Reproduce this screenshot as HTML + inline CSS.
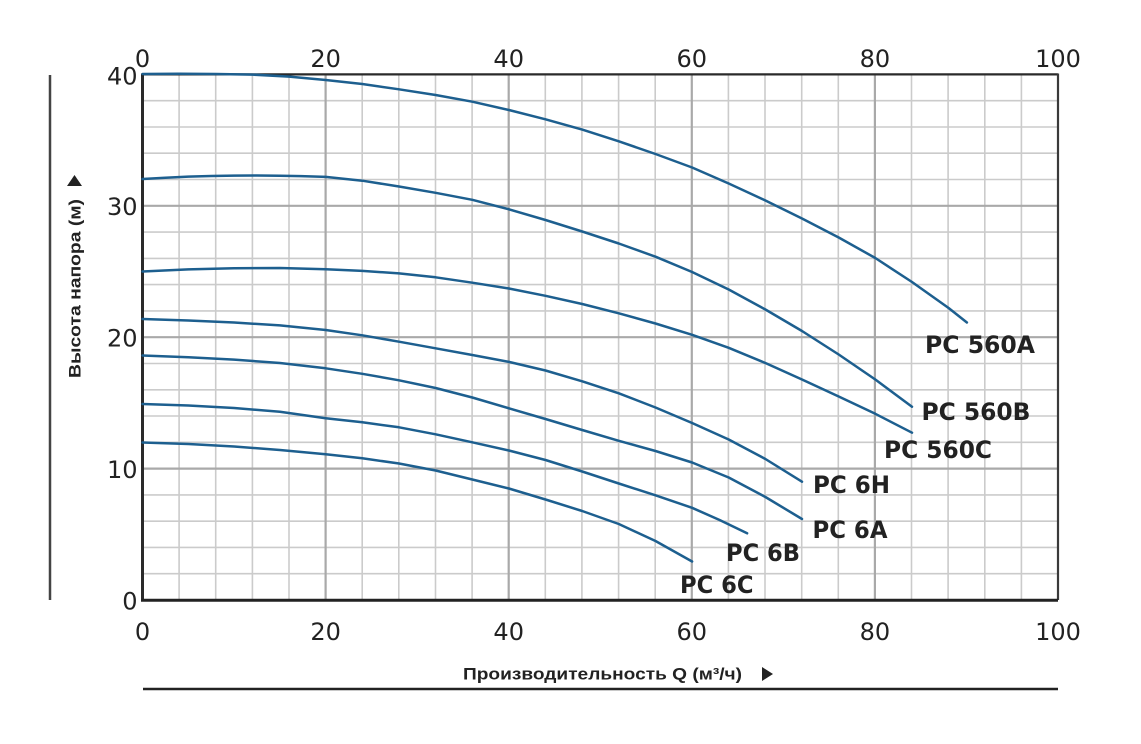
<!DOCTYPE html>
<html>
<head>
<meta charset="utf-8">
<style>
html,body{margin:0;padding:0;background:#fff;}
svg{display:block;}
.tk{font-family:"DejaVu Sans","Liberation Sans",sans-serif;font-size:24px;fill:#222;}
.lb{font-family:"DejaVu Sans","Liberation Sans",sans-serif;font-weight:bold;font-size:24px;fill:#222;}
.tt{font-family:"Liberation Sans","DejaVu Sans",sans-serif;font-weight:bold;font-size:17px;fill:#222;}
.c{fill:none;stroke:#1d5f8f;stroke-width:2.5;stroke-linejoin:round;stroke-linecap:round;}
</style>
</head>
<body>
<svg width="1141" height="744" viewBox="0 0 1141 744" xmlns="http://www.w3.org/2000/svg">
<rect width="1141" height="744" fill="#fff"/>
<g stroke="#cbcbcb" stroke-width="1.6">
<line x1="179.1" y1="74" x2="179.1" y2="600"/>
<line x1="215.7" y1="74" x2="215.7" y2="600"/>
<line x1="252.4" y1="74" x2="252.4" y2="600"/>
<line x1="289.0" y1="74" x2="289.0" y2="600"/>
<line x1="362.2" y1="74" x2="362.2" y2="600"/>
<line x1="398.8" y1="74" x2="398.8" y2="600"/>
<line x1="435.5" y1="74" x2="435.5" y2="600"/>
<line x1="472.1" y1="74" x2="472.1" y2="600"/>
<line x1="545.3" y1="74" x2="545.3" y2="600"/>
<line x1="581.9" y1="74" x2="581.9" y2="600"/>
<line x1="618.6" y1="74" x2="618.6" y2="600"/>
<line x1="655.2" y1="74" x2="655.2" y2="600"/>
<line x1="728.4" y1="74" x2="728.4" y2="600"/>
<line x1="765.0" y1="74" x2="765.0" y2="600"/>
<line x1="801.7" y1="74" x2="801.7" y2="600"/>
<line x1="838.3" y1="74" x2="838.3" y2="600"/>
<line x1="911.5" y1="74" x2="911.5" y2="600"/>
<line x1="948.1" y1="74" x2="948.1" y2="600"/>
<line x1="984.8" y1="74" x2="984.8" y2="600"/>
<line x1="1021.4" y1="74" x2="1021.4" y2="600"/>
<line x1="142.5" y1="573.7" x2="1058" y2="573.7"/>
<line x1="142.5" y1="547.4" x2="1058" y2="547.4"/>
<line x1="142.5" y1="521.2" x2="1058" y2="521.2"/>
<line x1="142.5" y1="494.9" x2="1058" y2="494.9"/>
<line x1="142.5" y1="442.3" x2="1058" y2="442.3"/>
<line x1="142.5" y1="416.0" x2="1058" y2="416.0"/>
<line x1="142.5" y1="389.8" x2="1058" y2="389.8"/>
<line x1="142.5" y1="363.5" x2="1058" y2="363.5"/>
<line x1="142.5" y1="310.9" x2="1058" y2="310.9"/>
<line x1="142.5" y1="284.6" x2="1058" y2="284.6"/>
<line x1="142.5" y1="258.4" x2="1058" y2="258.4"/>
<line x1="142.5" y1="232.1" x2="1058" y2="232.1"/>
<line x1="142.5" y1="179.5" x2="1058" y2="179.5"/>
<line x1="142.5" y1="153.2" x2="1058" y2="153.2"/>
<line x1="142.5" y1="127.0" x2="1058" y2="127.0"/>
<line x1="142.5" y1="100.7" x2="1058" y2="100.7"/>
</g>
<g stroke="#a9a9a9" stroke-width="2.2">
<line x1="325.6" y1="74" x2="325.6" y2="600"/>
<line x1="508.7" y1="74" x2="508.7" y2="600"/>
<line x1="691.8" y1="74" x2="691.8" y2="600"/>
<line x1="874.9" y1="74" x2="874.9" y2="600"/>
<line x1="142.5" y1="468.6" x2="1058" y2="468.6"/>
<line x1="142.5" y1="337.2" x2="1058" y2="337.2"/>
<line x1="142.5" y1="205.8" x2="1058" y2="205.8"/>
</g>
<line x1="142.5" y1="74.4" x2="1058" y2="74.4" stroke="#2a2a2a" stroke-width="2.2"/>
<line x1="1058" y1="73.5" x2="1058" y2="600" stroke="#3a3a3a" stroke-width="2.2"/>
<line x1="142.5" y1="73.5" x2="142.5" y2="601.5" stroke="#2a2a2a" stroke-width="3"/>
<line x1="141" y1="600.3" x2="1058" y2="600.3" stroke="#222" stroke-width="3"/>

<polyline class="c" points="142.5,74 179.1,73.8 215.8,74 252.4,74.6 289.1,76.6 325.7,80 362.3,84 399,89.3 435.6,95 472.3,101.7 508.9,110 545.5,119.3 582.2,129.6 618.8,141.3 655.5,154 692.1,167.5 728.7,183.5 765.4,200.5 802,218.5 838.7,237.5 875.3,258 912,282 948.6,308 966.9,322.5"/>
<polyline class="c" points="142.5,179 165.4,177.7 188.3,176.6 211.2,176 234.1,175.6 257,175.5 279.9,175.8 301,176.1 325.7,176.9 362.3,180.7 399,186.5 435.6,192.8 472.3,199.8 508.9,209.3 545.5,220 582.2,231.5 618.8,243.5 655.5,256.7 692.1,272 728.7,289.5 765.4,309.5 802,331 838.7,354.5 875.3,379.5 912,406.7"/>
<polyline class="c" points="142.5,271.5 188.3,269.4 234.1,268.3 279.9,268 325.7,269.3 362.3,270.9 399,273.4 435.6,277.3 472.3,282.7 508.9,288.5 545.5,295.8 582.2,304 618.8,313.3 655.5,323.5 692.1,334.8 728.7,347.8 765.4,363 802,379.5 838.7,396.5 875.3,413.8 912,432.7"/>
<polyline class="c" points="142.5,319 188.3,320.5 234.1,322.5 279.9,325.4 325.7,330 362.3,335.3 399,341.7 435.6,348.3 472.3,355 508.9,361.9 545.5,370.5 582.2,381.3 618.8,393.3 655.5,407.5 692.1,423 728.7,439.5 765.4,459 802,481.7"/>
<polyline class="c" points="142.5,355.5 188.3,357.2 234.1,359.6 279.9,363 325.7,368.3 362.3,373.8 399,380.3 435.6,388 472.3,397.5 508.9,408.3 545.5,419 582.2,430 618.8,440.8 655.5,451 692.1,462.5 728.7,477.5 765.4,497 802,519"/>
<polyline class="c" points="142.5,404 188.3,405.5 234.1,408 279.9,411.8 325.7,418.3 362.3,422.3 399,427.3 435.6,434.3 472.3,442.3 508.9,450.5 545.5,460 582.2,471.5 618.8,483.5 655.5,495.3 692.1,507.8 719.6,520 747.1,533.3"/>
<polyline class="c" points="142.5,442.5 188.3,444 234.1,446.5 279.9,450 325.7,454.3 362.3,458.3 399,463.5 435.6,470.5 472.3,479.5 508.9,488.5 545.5,499.5 582.2,511 618.8,524 655.5,541 692.1,561.5"/>

<text class="lb" x="925" y="353" textLength="110" lengthAdjust="spacingAndGlyphs">PC 560A</text>
<text class="lb" x="921.5" y="420" textLength="109" lengthAdjust="spacingAndGlyphs">PC 560B</text>
<text class="lb" x="884" y="458" textLength="108" lengthAdjust="spacingAndGlyphs">PC 560C</text>
<text class="lb" x="813" y="493" textLength="77" lengthAdjust="spacingAndGlyphs">PC 6H</text>
<text class="lb" x="812.5" y="538" textLength="75" lengthAdjust="spacingAndGlyphs">PC 6A</text>
<text class="lb" x="726" y="561" textLength="74" lengthAdjust="spacingAndGlyphs">PC 6B</text>
<text class="lb" x="680" y="593" textLength="73.5" lengthAdjust="spacingAndGlyphs">PC 6C</text>

<g class="tk" text-anchor="middle">
<text x="142.5" y="67">0</text>
<text x="325.6" y="67">20</text>
<text x="508.7" y="67">40</text>
<text x="691.8" y="67">60</text>
<text x="874.9" y="67">80</text>
<text x="1058" y="67">100</text>
<text x="142.5" y="640">0</text>
<text x="325.6" y="640">20</text>
<text x="508.7" y="640">40</text>
<text x="691.8" y="640">60</text>
<text x="874.9" y="640">80</text>
<text x="1058" y="640">100</text>
</g>
<g class="tk" text-anchor="end">
<text x="137.5" y="84.5">40</text>
<text x="137.5" y="215">30</text>
<text x="137.5" y="346.5">20</text>
<text x="137.5" y="478">10</text>
<text x="137.5" y="609.3">0</text>
</g>

<line x1="50" y1="75" x2="50" y2="600" stroke="#444" stroke-width="2.5"/>
<text class="tt" transform="translate(80.5,288.5) rotate(-90)" text-anchor="middle" textLength="179" lengthAdjust="spacingAndGlyphs">Высота напора (м)</text>
<polygon points="74.5,175 67,186 82,186" fill="#222"/>

<text class="tt" x="463" y="679.5" textLength="279" lengthAdjust="spacingAndGlyphs">Производительность Q (м³/ч)</text>
<polygon points="762,667 773,674 762,681" fill="#222"/>
<line x1="143" y1="689" x2="1058" y2="689" stroke="#222" stroke-width="2.5"/>
</svg>
</body>
</html>
